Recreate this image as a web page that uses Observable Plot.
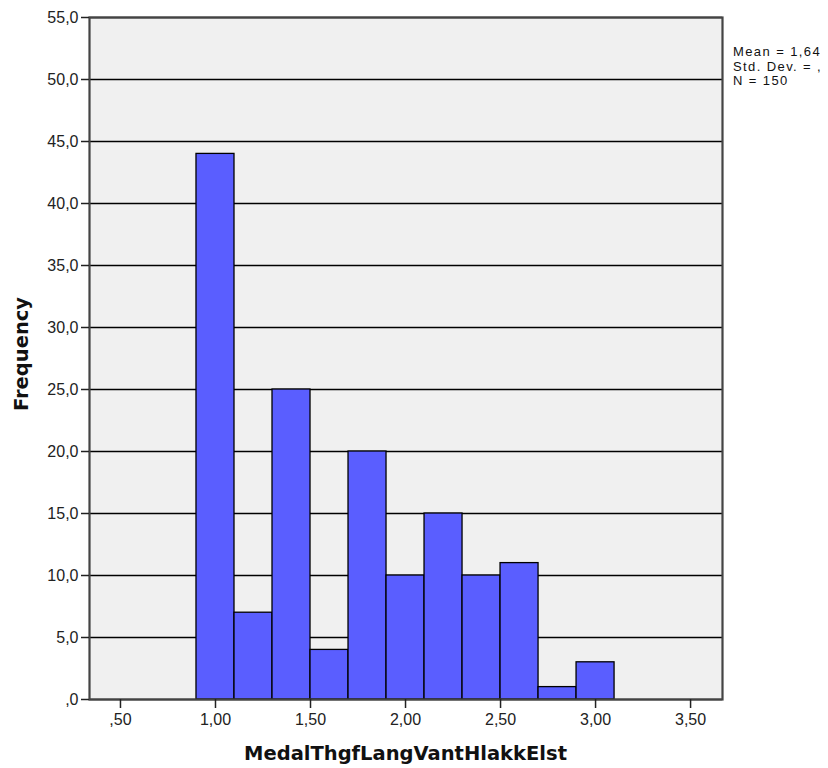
<!DOCTYPE html>
<html><head><meta charset="utf-8">
<script src="https://cdn.jsdelivr.net/npm/d3@7"></script>
<script src="https://cdn.jsdelivr.net/npm/@observablehq/plot@0.6"></script>
<style>
body{margin:0;background:#fff;font-family:"Liberation Sans",Arial,sans-serif}
#wrap{position:relative;width:828px;height:768px;overflow:hidden}
#stats{position:absolute;left:733px;top:45px;font-size:13px;line-height:14.6px;letter-spacing:1.4px;white-space:nowrap;color:#111}
#xt{position:absolute;left:89px;width:633px;top:742px;text-align:center;font-family:"DejaVu Sans",sans-serif;font-weight:bold;font-size:19.5px;color:#111;white-space:nowrap}
#yt{position:absolute;left:21px;top:354px;transform:translate(-50%,-50%) rotate(-90deg);font-family:"DejaVu Sans",sans-serif;font-weight:bold;font-size:19.5px;color:#111;white-space:nowrap}
</style>
</head><body>
<div id="wrap">
<div id="chart"></div>
<div id="stats">Mean = 1,64<br>Std. Dev. = ,<br>N = 150</div>
<div id="xt">MedalThgfLangVantHlakkElst</div>
<div id="yt">Frequency</div>
</div>
<script>
const binLower = [0.9, 1.1, 1.3, 1.5, 1.7, 1.9, 2.1, 2.3, 2.5, 2.7, 2.9];
const binUpper = [1.1, 1.3, 1.5, 1.7, 1.9, 2.1, 2.3, 2.5, 2.7, 2.9, 3.1];
const counts   = [44, 7, 25, 4, 20, 10, 15, 10, 11, 1, 3];
const xTicks = [0.5, 1.0, 1.5, 2.0, 2.5, 3.0, 3.5];
const yTicks = [0, 5, 10, 15, 20, 25, 30, 35, 40, 45, 50, 55];

const data = counts.map((c, i) => ({x1: binLower[i], x2: binUpper[i], n: c}));
const fmtY = d => d === 0 ? ",0" : d.toFixed(1).replace(".", ",");
const fmtX = d => d.toFixed(2).replace(".", ",").replace(/^0/, "");

const chart = Plot.plot({
  width: 828, height: 768,
  marginLeft: 89, marginRight: 106, marginTop: 17, marginBottom: 69,
  style: {fontFamily: '"Liberation Sans", Arial, sans-serif', fontSize: "16px", color: "#222", background: "transparent"},
  x: {domain: [0.337, 3.668]},
  y: {domain: [0, 55]},
  marks: [
    Plot.frame({fill: "#f0f0f0"}),
    Plot.gridY(yTicks, {stroke: "#000", strokeOpacity: 1, strokeWidth: 1.3}),
    Plot.rect(data, {x1: "x1", x2: "x2", y1: 0, y2: "n", fill: "#5a5eff", stroke: "#000", strokeWidth: 1.3}),
    Plot.frame({stroke: "#444", strokeWidth: 2.2}),
    Plot.axisY(yTicks, {tickFormat: fmtY, tickSize: 8, tickPadding: 3, label: null, stroke: "#222", strokeWidth: 1.5, fontSize: 16}),
    Plot.axisX(xTicks, {tickFormat: fmtX, tickSize: 9, tickPadding: 5, label: null, stroke: "#222", strokeWidth: 1.5, fontSize: 16})
  ]
});
document.getElementById("chart").appendChild(chart);
</script>
</body></html>
